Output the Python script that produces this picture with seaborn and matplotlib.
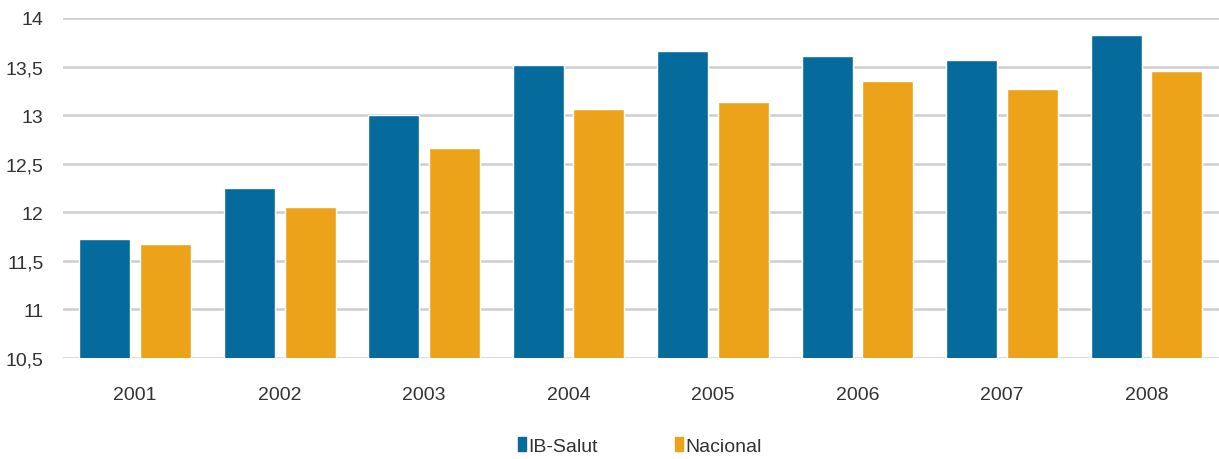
import matplotlib
matplotlib.use("Agg")
import matplotlib.pyplot as plt
from matplotlib.patches import Patch
import seaborn as sns
import pandas as pd

years = ["2001", "2002", "2003", "2004", "2005", "2006", "2007", "2008"]
ib_salut = [11.73, 12.25, 13.0, 13.52, 13.66, 13.61, 13.57, 13.83]
nacional = [11.67, 12.05, 12.66, 13.06, 13.14, 13.35, 13.27, 13.45]
series = ["IB-Salut", "Nacional"]
yticks = [10.5, 11, 11.5, 12, 12.5, 13, 13.5, 14]
ytick_labels = ["10,5", "11", "11,5", "12", "12,5", "13", "13,5", "14"]

colors = {"IB-Salut": "#056a9c", "Nacional": "#eca31a"}

df = pd.DataFrame({
    "year": years * 2,
    "value": ib_salut + nacional,
    "serie": [series[0]] * len(years) + [series[1]] * len(years),
})

sns.set_style("white")
plt.rcParams["font.family"] = ["Liberation Sans Narrow", "Liberation Sans", "DejaVu Sans"]

fig = plt.figure(figsize=(12.19, 4.6), dpi=100)
ax = fig.add_axes([0.0517, 0.2196, 0.948, 0.7391])

sns.barplot(data=df, x="year", y="value", hue="serie", palette=colors,
            width=0.84, gap=0.16, ax=ax, legend=False, saturation=1)

ax.set_ylim(10.5, 14)
ax.set_xlim(-0.5, 7.5)
ax.set_yticks(yticks)
ax.set_yticklabels(ytick_labels)
ax.set_xlabel("")
ax.set_ylabel("")
ax.yaxis.grid(True, color="#cbcfd2", linewidth=1.8)
ax.set_axisbelow(True)
for s in ax.spines.values():
    s.set_visible(False)
ax.tick_params(axis="y", length=0, pad=14, labelsize=14, labelcolor="#333333")
ax.tick_params(axis="x", length=0, pad=20, labelsize=14, labelcolor="#333333")

handles = [Patch(color=colors[s]) for s in series]
fig.legend(handles, series, loc="center", bbox_to_anchor=(0.525, 0.028),
           ncol=2, frameon=False, fontsize=14, handlelength=0.4,
           handletextpad=0.1, columnspacing=4.0, labelcolor="#333333")

fig.savefig("out.png", dpi=100)
